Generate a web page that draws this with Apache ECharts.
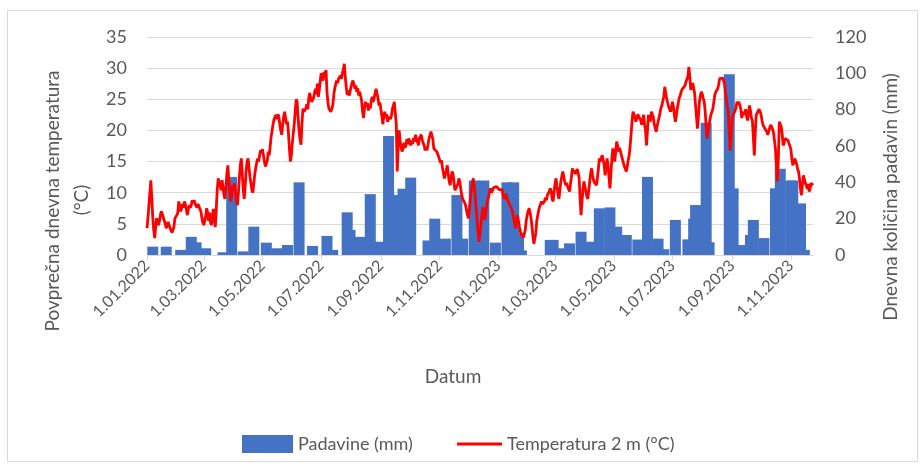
<!DOCTYPE html>
<html>
<head>
<meta charset="utf-8">
<script src="https://cdn.jsdelivr.net/npm/echarts@6/dist/echarts.min.js"></script>
<style>html,body{margin:0;padding:0;background:#fff}#c{width:923px;height:470px}</style>
</head>
<body>
<div id="c"></div>
<script>
// First day of the daily series
const startDate = [2022, 1, 1];

// Daily mean temperature 2 m (°C), from 1.01.2022 onwards
const temperature = [
4.3,6,8,10,12,9,6,4,2.7,4.5,
5.9,5.2,4.8,5.5,6.5,7,6.5,6,5.5,5,
4.3,4.8,5.3,4.8,4.3,4,3.6,3.5,4.5,5.9,
6.2,6.4,6.8,8.6,7.8,7,7.5,8.2,7.6,8.6,
8,7.2,6.4,7.4,8,7.6,8,8.8,8.4,8.8,
8.2,8,7.6,8.2,7.8,7.4,7,6,5.2,4.8,
4.8,6.2,7.5,6.8,5.5,6.8,5.2,4.8,6.5,7.4,
5.5,4.5,7.5,10.5,12.3,11.6,11.2,10.4,12,10.8,
9.6,9,11,13,14.4,12,10,8.6,9.5,11.2,
10.8,11.5,9.8,8.8,8,10,12.5,14.5,15.5,13,
10.5,9,11,13.5,15,15.5,14,12.5,11.5,10.4,
10,11.6,13,14,14.8,15.5,15,16,16.8,16.4,
17,16,15,14.2,14,15.2,16.6,16,17.5,19,
20,21,21.8,22,22.5,21.8,22.6,22.2,21,20,
19.3,21,22.2,23,22,21,21.4,19.5,17,15,
16,18,19.5,21,23,25,24.6,22,20,18.5,
17.7,21,23.5,23,22.7,23.5,24.2,23.4,25,26,
26.3,24.6,24.6,25.2,26,26.7,25.8,27.5,25.4,26.5,
28,29.2,29,28,29.4,28.8,29.7,26.2,24.5,23.5,
23.8,23,23,24,25.6,26.7,26.7,28,27.6,28.3,
28,28.8,28.3,29.2,29.8,30.7,28.6,27,25.7,26.4,
25.6,26.2,27,27.6,28,27.4,26.7,27.2,26.2,26.8,
25.6,26.2,26.2,24.8,23,22,23.5,24.6,23.8,24.4,
23.2,24,23.5,24.8,25.4,24.6,25.2,26,26.7,26.7,
25.2,24,24.5,23.4,22.4,21,22.2,23,22,22.6,
21.4,21.4,22.2,21.8,22.4,23.5,24,24.6,24.6,21,
13.4,17.5,20,18.2,17.4,16.6,17.2,18,17.2,17.6,
18.6,17.8,18.7,18.2,17.6,18.4,17.8,18.8,18.2,19.3,
18.6,18.2,17.6,18.8,18.6,19.3,18.4,18,17.6,16.8,
17.2,16.8,17.8,18.7,19.2,19.8,19.8,18.6,17.1,17.4,
16.8,16.6,16.6,15.8,15.5,14.8,15.2,14,13.2,12.3,
12.3,13.6,14.4,13,11.8,11.2,12.4,13.4,13,11.6,
10.4,10.2,10.2,11.4,12.3,11.8,10.6,9.6,9,9,
8.4,8,7.2,6.4,5.9,7.4,9,10.5,11.5,12.3,
12.3,9.5,7.5,5.6,3.5,2.1,3.5,4.8,6.5,7.7,
7,5.6,6.8,8,8.8,9.4,10.2,10.7,10,10.4,
10.8,10.6,11,11,10.8,11,10.5,10.2,10.8,10.5,
9.6,9,9.4,9.8,9.2,8.6,8.8,8.4,7.7,8,
6.8,5.9,5,4.3,5.8,6.4,5.4,4.5,3.8,3.2,
3,2.8,2.7,4,5.5,6.4,7,7.5,7.2,6,
4.6,3,1.8,1.6,3.5,5.5,6.4,7.2,7.8,8.2,
8.6,8.2,8,8.6,9.2,8.8,9.6,9.6,10.2,10.7,
10.2,9,8.6,10.2,11.5,12.3,11,9.8,9,10.4,
11.8,12.6,13.4,12.6,11.8,11.2,11.6,11,10.6,10.2,
11.4,12.5,13.9,13.2,13.6,13,13.4,13.8,13.2,12.4,
9,6.4,8.6,10.6,11.8,11,10.2,9.4,9,10.4,
11.8,13.2,13.9,12.8,12,11.6,11.4,11.2,12.4,13.8,
15.5,15,15.6,16,16,14.5,12.8,14.2,15.5,14.4,
12.5,10.7,13,15.4,17.1,16.2,15,16.5,18.2,17.6,
16.6,17.2,16.6,16,15.4,14.8,14.2,13.8,13.4,14.2,
15.2,16,17.5,19.5,21.5,23,22.6,22.8,21.4,22,
22.6,22.2,22.5,21.6,20.9,21.8,22.5,21,20,17.6,
20,22.5,22,21.4,23,23,22.2,21,20.4,19.8,
20.6,21.4,22,22.8,23.6,24,24,25.5,27,26,
25.1,24.4,23.8,23.4,23,23.8,24.6,23.8,22.4,21.4,
22.4,23.5,24.4,25.2,25.6,26.2,26.6,26.4,26.7,27.2,
27.8,27.8,28.6,30.2,28.6,26.5,26.8,27.6,27.3,26,
24,22,20.3,22.4,24.6,25.6,26.2,25.8,25.1,24.6,
23,20.6,18.7,19.8,20.9,21.8,22.6,23,23.5,24.6,
25.7,26.2,26.4,26.7,27.4,28.3,28.6,28.2,28.4,28.6,
27.6,26.2,25,23.8,23,19.5,16.8,19,21.9,22.4,
22.8,23,23.6,24.6,24.2,24.6,24.9,23.4,22,22.6,
23,22.5,23.4,22.2,21.6,22.8,24,23.2,22,21.6,
19,16,19.5,22.5,22.2,22.8,23.4,23.5,22.6,21.6,
20.9,20.6,20.3,20,19.8,19.3,19.6,20.4,20.9,20.9,
20.2,19.6,19.3,17,14,11.8,15.5,21.4,21,20.6,
19.4,17.6,18,18.7,18.4,18.7,18.4,18.2,18.2,17,
15.5,14.4,14.8,15.5,15.2,14.6,13.8,13.4,12.2,10.6,
9.6,11.2,12.8,12.2,11.6,11.2,10.6,11.4,10.2,10.7,
11.5,11.8,11.2
];

// Daily precipitation (mm) on the rainy days shown
const precipDates = [
'7.01.2022','21.01.2022','5.02.2022','16.02.2022','21.02.2022','3.03.2022','21.03.2022','30.03.2022',
'11.04.2022','22.04.2022','5.05.2022','16.05.2022','27.05.2022','8.06.2022','22.06.2022','7.07.2022',
'13.07.2022','28.07.2022','31.07.2022','10.08.2022','21.08.2022','31.08.2022','9.09.2022','17.09.2022',
'24.09.2022','2.10.2022','20.10.2022','27.10.2022','7.11.2022','19.11.2022','25.11.2022','7.12.2022',
'17.12.2022','29.12.2022','10.01.2023','17.01.2023','22.01.2023','25.01.2023','24.02.2023','27.02.2023',
'7.03.2023','16.03.2023','28.03.2023','7.04.2023','16.04.2023','27.04.2023','4.05.2023','14.05.2023',
'26.05.2023','5.06.2023','16.06.2023','22.06.2023','4.07.2023','17.07.2023','23.07.2023','25.07.2023',
'5.08.2023','8.08.2023','29.08.2023','2.09.2023','12.09.2023','20.09.2023','23.09.2023','4.10.2023',
'16.10.2023','21.10.2023','1.11.2023','3.11.2023','11.11.2023','15.11.2023'
];
const precipMm = [
4.6,4.6,2.8,10,7,3.7,1.5,43,
2,15.6,6.8,3.7,5.5,40,5,10.5,
2.8,23.5,13.8,10,33.5,7.3,65.5,33,
36.5,42.6,8,20,9,33,9,41,
41,6.8,40,40,12,2.5,8.3,8.3,
3.7,6.4,12.8,7.3,25.7,26.2,15.6,11,
8.5,43,9,3.2,19.3,8.6,20,27.5,
72.8,7,99.5,36.7,5.5,11,19.3,9.3,
36.7,47.5,41,41,28.4,2.8
];

// Axis tick labels
const tempTicks = [0, 5, 10, 15, 20, 25, 30, 35];
const precipTicks = [0, 20, 40, 60, 80, 100, 120];

// Build daily category labels
const days = [];
for (let i = 0; i < temperature.length; i++) {
  const d = new Date(Date.UTC(startDate[0], startDate[1] - 1, startDate[2] + i));
  days.push(d.getUTCDate() + '.' + String(d.getUTCMonth() + 1).padStart(2, '0') + '.' + d.getUTCFullYear());
}
const precipByDay = {};
precipDates.forEach((d, i) => { precipByDay[d] = precipMm[i]; });
const precipSeries = days.map(d => (d in precipByDay ? precipByDay[d] : null));

const isMajor = (idx, val) => /^1\.(01|03|05|07|09|11)\./.test(val);
const FONT = 'Lato';
const GREY = '#595959';

const chart = echarts.init(document.getElementById('c'), null, { renderer: 'canvas' });
chart.setOption({
  animation: false,
  backgroundColor: '#fff',
  textStyle: { fontFamily: FONT },
  grid: { left: 147, right: 110, top: 37, bottom: 215, containLabel: false },
  xAxis: {
    type: 'category',
    data: days,
    boundaryGap: false,
    axisLine: { lineStyle: { color: '#d9d9d9', width: 1 } },
    axisTick: { show: true, interval: isMajor, length: 5, lineStyle: { color: '#d9d9d9' } },
    axisLabel: { interval: isMajor, rotate: 45, color: GREY, fontSize: 16, fontFamily: FONT, margin: 8 },
    splitLine: { show: false }
  },
  yAxis: [
    {
      type: 'value', min: tempTicks[0], max: tempTicks[tempTicks.length - 1], interval: 5,
      axisLine: { show: false }, axisTick: { show: false },
      axisLabel: { color: GREY, fontSize: 18, fontFamily: FONT, margin: 20 },
      splitLine: { lineStyle: { color: '#d9d9d9', width: 1 } }
    },
    {
      type: 'value', min: precipTicks[0], max: precipTicks[precipTicks.length - 1], interval: 20,
      position: 'right',
      axisLine: { show: false }, axisTick: { show: false },
      axisLabel: { color: GREY, fontSize: 18, fontFamily: FONT, margin: 22 },
      splitLine: { show: false }
    }
  ],
  legend: [
    {
      left: 237, top: 430, itemWidth: 51, itemHeight: 18, itemGap: 10,
      textStyle: { color: GREY, fontSize: 18, fontFamily: FONT },
      data: [{ name: 'Padavine (mm)', icon: 'rect' }]
    },
    {
      left: 452, top: 430, itemWidth: 45, itemHeight: 3,
      textStyle: { color: GREY, fontSize: 18, fontFamily: FONT, lineHeight: 18 },
      data: [{ name: 'Temperatura 2 m (°C)', icon: 'rect', itemStyle: { color: '#FF0000' } }]
    }
  ],
  series: [
    {
      name: 'Padavine (mm)', type: 'bar', yAxisIndex: 1,
      data: precipSeries, barWidth: 11,
      itemStyle: { color: '#4472C4' }, clip: true
    },
    {
      name: 'Temperatura 2 m (°C)', type: 'line', yAxisIndex: 0,
      data: temperature, symbol: 'none', smooth: false,
      lineStyle: { color: '#FF0000', width: 2.8 }, itemStyle: { color: '#FF0000' }, z: 5
    }
  ],
  graphic: [
    { type: 'rect', shape: { x: 7.5, y: 10.5, width: 910, height: 451 }, style: { fill: 'none', stroke: '#d9d9d9', lineWidth: 1 }, silent: true },
    { type: 'text', x: 53, y: 201, rotation: Math.PI / 2, style: { text: 'Povprečna dnevna temperatura', fill: GREY, font: '19px ' + FONT, textAlign: 'center', textVerticalAlign: 'middle' } },
    { type: 'text', x: 82, y: 200, rotation: Math.PI / 2, style: { text: '(°C)', fill: GREY, font: '19px ' + FONT, textAlign: 'center', textVerticalAlign: 'middle' } },
    { type: 'text', x: 891, y: 197, rotation: Math.PI / 2, style: { text: 'Dnevna količina padavin (mm)', fill: GREY, font: '19px ' + FONT, textAlign: 'center', textVerticalAlign: 'middle' } },
    { type: 'text', x: 453, y: 377, style: { text: 'Datum', fill: GREY, font: '19px ' + FONT, textAlign: 'center', textVerticalAlign: 'middle' } }
  ]
});
</script>
</body>
</html>
